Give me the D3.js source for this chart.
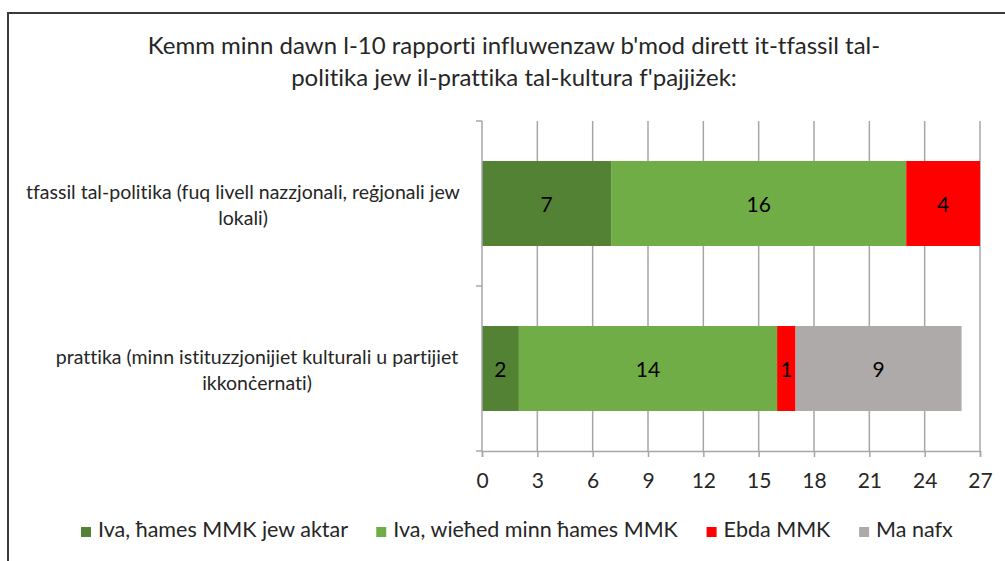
<!DOCTYPE html>
<html>
<head>
<meta charset="utf-8">
<script src="https://cdn.jsdelivr.net/npm/d3@7"></script>
<style>
  body { margin: 0; background: #fff; }
  text { font-family: Lato, "Open Sans", sans-serif; fill: #000; font-variant-ligatures: none; font-feature-settings: "liga" 0, "clig" 0; }
</style>
</head>
<body>
<svg id="chart" width="1005" height="561"></svg>
<script>

// Data
var categories = ["politika", "prattika"];
var categoryLines = [
    ["tfassil tal-politika (fuq livell nazzjonali, reġjonali jew", "lokali)"],
    ["prattika (minn istituzzjonijiet kulturali u partijiet", "ikkonċernati)"]
];
var seriesNames  = ["Iva, ħames MMK jew aktar", "Iva, wieħed minn ħames MMK", "Ebda MMK", "Ma nafx"];
var seriesColors = ["#548235", "#70ad47", "#ff0000", "#aeaaaa"];
var ivaHames  = [7, 2];
var ivaWiehed = [16, 14];
var ebdaMMK   = [4, 1];
var maNafx    = [0, 9];
var xTicks    = [0, 3, 6, 9, 12, 15, 18, 21, 24, 27];
var titleLines = [
    "Kemm minn dawn l-10 rapporti influwenzaw b'mod dirett it-tfassil tal-",
    "politika jew il-prattika tal-kultura f'pajjiżek:"
];

var svg = d3.select("#chart");
var position = { left: 482, top: 121, right: 980, bottom: 451 };

// outer frame (runs off the right and bottom edges)
svg.append("rect")
    .attr("x", 8).attr("y", 13)
    .attr("width", 1100).attr("height", 600)
    .style("fill", "none")
    .style("stroke", "#3a3a3a")
    .style("stroke-width", 2);

// title
svg.append("g").selectAll("text")
    .data(titleLines)
    .enter()
    .append("text")
      .attr("x", 514)
      .attr("y", (d, i) => 54 + i * 32)
      .attr("text-anchor", "middle")
      .style("font-size", "24px")
      .style("fill", "#262626")
      .text(d => d);

let x = d3.scaleLinear()
            .domain([0, 27])
            .range([position.left, position.right]);

let y = d3.scaleBand()
            .domain(categories)
            .range([position.top, position.bottom])
            .paddingInner(0.485)
            .paddingOuter(0.2425);

// vertical gridlines
svg.append("g")
    .selectAll("line")
      .data(xTicks.slice(1))
      .enter()
      .append("line")
        .attr("x1", d => x(d)).attr("x2", d => x(d))
        .attr("y1", position.top).attr("y2", position.bottom)
        .style("stroke", "#a6a6a6")
        .style("stroke-width", 1.5);

// stacked series
let seriesValues = [ivaHames, ivaWiehed, ebdaMMK, maNafx];
let segments = [];
categories.forEach(function(c, ci) {
    let start = 0;
    seriesValues.forEach(function(vals, si) {
        segments.push({ cat: c, series: si, x0: start, x1: start + vals[ci], v: vals[ci] });
        start += vals[ci];
    });
});

svg.append("g")
    .selectAll("rect")
      .data(segments.filter(d => d.v > 0))
      .enter()
      .append("rect")
        .attr("x", d => x(d.x0))
        .attr("y", d => y(d.cat))
        .attr("width", d => x(d.x1) - x(d.x0))
        .attr("height", y.bandwidth())
        .style("fill", d => seriesColors[d.series]);

svg.append("g")
    .selectAll("text")
      .data(segments.filter(d => d.v > 0))
      .enter()
      .append("text")
        .attr("x", d => (x(d.x0) + x(d.x1)) / 2)
        .attr("y", d => y(d.cat) + y.bandwidth() / 2)
        .attr("dy", "0.42em")
        .attr("text-anchor", "middle")
        .style("font-size", "21px")
        .text(d => d.v);

// x axis
let xAxis = svg.append("g")
    .attr("transform", "translate(0," + position.bottom + ")")
    .call(d3.axisBottom(x).tickValues(xTicks).tickSize(6).tickPadding(16));
xAxis.select(".domain").style("stroke", "#a6a6a6").style("stroke-width", 1.5);
xAxis.selectAll(".tick line").style("stroke", "#a6a6a6").style("stroke-width", 1.5);
xAxis.selectAll(".tick text")
    .style("font-family", "Lato, 'Open Sans', sans-serif")
    .style("font-size", "21px")
    .style("fill", "#262626");

// y axis: line plus category boundary ticks
let yBounds = [position.top, (position.top + position.bottom) / 2, position.bottom];
svg.append("line")
    .attr("x1", position.left).attr("x2", position.left)
    .attr("y1", position.top).attr("y2", position.bottom)
    .style("stroke", "#a6a6a6").style("stroke-width", 1.5);
svg.append("g")
    .selectAll("line")
      .data(yBounds)
      .enter()
      .append("line")
        .attr("x1", position.left - 6).attr("x2", position.left)
        .attr("y1", d => d).attr("y2", d => d)
        .style("stroke", "#a6a6a6").style("stroke-width", 1.5);

// category labels
let catLabels = svg.append("g")
    .selectAll("text")
      .data(categories)
      .enter()
      .append("text")
        .attr("text-anchor", "middle")
        .style("font-size", "19.5px")
        .style("fill", "#262626")
        .attr("y", d => y(d) + y.bandwidth() / 2 - 5);
catLabels.each(function(d, i) {
    let cx = i == 0 ? 243 : 257;
    d3.select(this).selectAll("tspan")
        .data(categoryLines[i])
        .enter()
        .append("tspan")
          .attr("x", cx)
          .attr("dy", (t, j) => j == 0 ? 0 : 26)
          .text(t => t);
});

// legend
let legend = svg.append("g");
let items = legend.selectAll("g")
    .data(seriesNames)
    .enter()
    .append("g");
items.append("rect")
    .attr("width", 10).attr("height", 10)
    .attr("y", -10)
    .style("fill", (d, i) => seriesColors[i]);
items.append("text")
    .attr("x", 17)
    .style("font-size", "21.5px")
    .style("fill", "#262626")
    .text(d => d);

let widths = [];
items.each(function() { widths.push(this.getBBox().width); });
let gap = 28;
let total = d3.sum(widths) + gap * (widths.length - 1);
let cursor = 517 - total / 2;
items.attr("transform", function(d, i) {
    let t = "translate(" + cursor + ",537)";
    cursor += widths[i] + gap;
    return t;
});

</script>
</body>
</html>
